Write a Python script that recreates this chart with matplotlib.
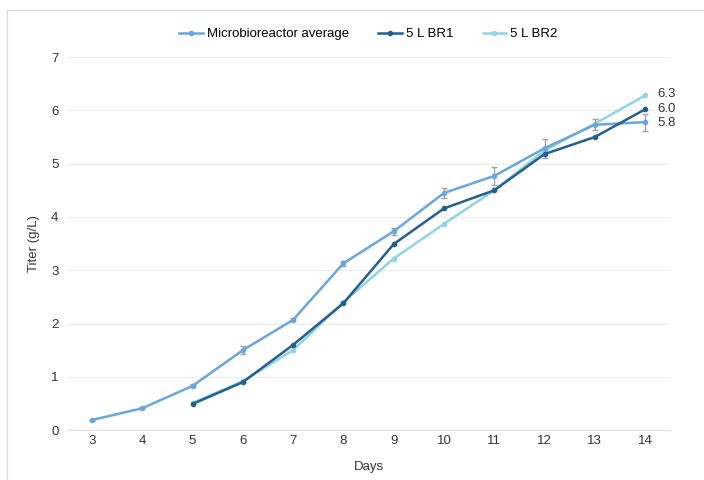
import matplotlib.pyplot as plt
from matplotlib.patches import Rectangle

plt.rcParams['font.family'] = ['Liberation Sans', 'DejaVu Sans']

days = [3, 4, 5, 6, 7, 8, 9, 10, 11, 12, 13, 14]
micro_avg = [0.19, 0.41, 0.83, 1.50, 2.07, 3.13, 3.73, 4.45, 4.77, 5.29, 5.73, 5.78]
micro_err = [0.02, 0.02, 0.03, 0.07, 0.03, 0.05, 0.07, 0.10, 0.17, 0.18, 0.10, 0.16]
br_days = [5, 6, 7, 8, 9, 10, 11, 12, 13, 14]
br1 = [0.49, 0.90, 1.60, 2.38, 3.49, 4.16, 4.50, 5.18, 5.50, 6.02]
br2 = [0.51, 0.92, 1.50, 2.40, 3.22, 3.87, 4.50, 5.25, 5.75, 6.28]

c_micro = "#6aa6dc"
c_br1 = "#255e91"
c_br2 = "#92d3df"

fig = plt.figure(figsize=(7.04, 4.8), dpi=100)
# marco tenue alrededor de la figura
fig.patches.append(Rectangle((7 / 704, -0.1), 1.2, 1 - 10 / 480 + 0.1, transform=fig.transFigure,
                             fill=False, ec="#dcdcdc", lw=1))
ax = fig.add_axes([0.095, 0.104, 0.857, 0.777])

eb = ax.errorbar(days, micro_avg, yerr=micro_err, color=c_micro, lw=1.8, marker="o", ms=3,
                 ecolor="#a0a0a0", elinewidth=1, capsize=2, zorder=3)
l1, = ax.plot(br_days, br1, color=c_br1, lw=1.8, marker="o", ms=3, zorder=4)
l2, = ax.plot(br_days, br2, color=c_br2, lw=1.8, marker="o", ms=3, zorder=2)

# etiquetas finales
ax.text(14.25, br2[-1] + 0.03, "6.3", fontsize=9.5, va="center", color="#333333")
ax.text(14.25, br1[-1], "6.0", fontsize=9.5, va="center", color="#333333")
ax.text(14.25, micro_avg[-1] - 0.02, "5.8", fontsize=9.5, va="center", color="#333333")

ax.set_xlim(2.5, 14.5)
ax.set_ylim(0, 7)
ax.set_xticks(days)
ax.set_yticks(range(0, 8))
ax.tick_params(length=0, labelsize=9.5, colors="#333333")
ax.tick_params(axis="y", pad=6)
ax.grid(axis="y", color="#ececec", lw=0.8)
ax.set_axisbelow(True)
for s in ["top", "right", "left"]:
    ax.spines[s].set_visible(False)
ax.spines["bottom"].set_color("#e0e0e0")

ax.set_xlabel("Days", fontsize=9.5, color="#333333", labelpad=10)
ax.set_ylabel("Titer (g/L)", fontsize=9.5, color="#333333", labelpad=8)

ax.legend([eb.lines[0], l1, l2], ["Microbioreactor average", "5 L BR1", "5 L BR2"],
          loc="upper center", bbox_to_anchor=(0.5, 1.11), ncol=3, frameon=False,
          fontsize=9.5, handlelength=1.8, handletextpad=0.3, columnspacing=2.2)

fig.savefig("out.png", dpi=100)
